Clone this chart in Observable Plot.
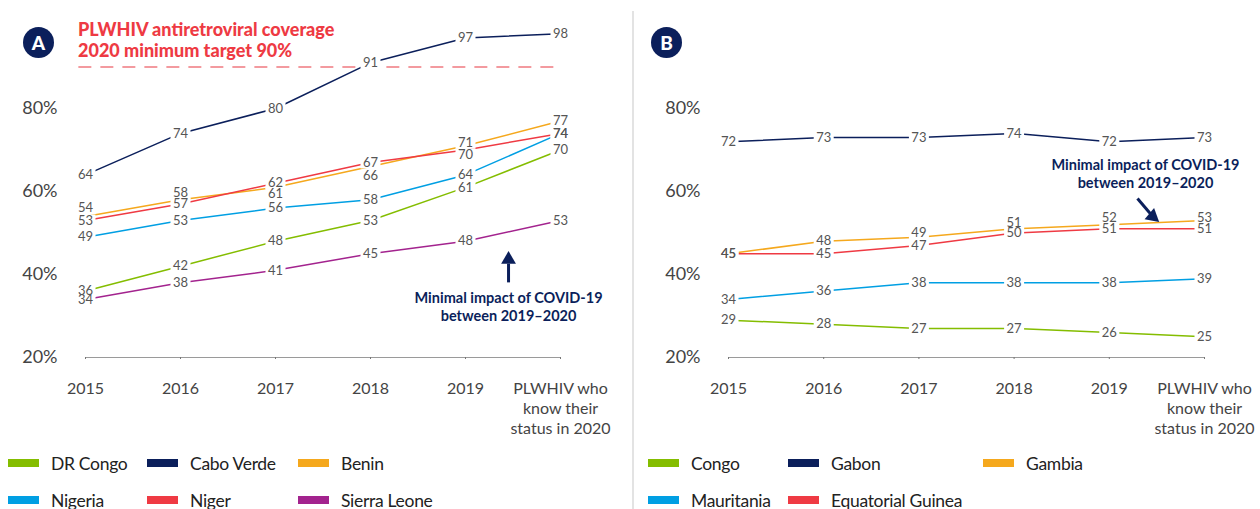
<!DOCTYPE html>
<html><head><meta charset="utf-8">
<script src="https://cdn.jsdelivr.net/npm/d3@7"></script>
<script src="https://cdn.jsdelivr.net/npm/@observablehq/plot@0.6"></script>
<style>
body{margin:0;background:#fff;font-family:Lato,"Open Sans",sans-serif;}
#wrap{position:relative;width:1260px;height:509px;overflow:hidden;background:#fff;}
.panel{position:absolute;top:0;}
.badge{position:absolute;width:31px;height:31px;border-radius:50%;background:#0b1f5b;color:#fff;font-weight:900;font-size:19px;text-align:center;line-height:31px;}
.title{position:absolute;left:78px;top:19px;color:#ee3a43;font-weight:900;font-size:18px;line-height:21px;white-space:nowrap;}
.divider{position:absolute;left:632px;top:11px;width:2px;height:498px;background:#e3e3e3;}
.li{position:absolute;font-size:17.5px;letter-spacing:-0.3px;color:#222;display:flex;align-items:center;height:24px;white-space:nowrap;}
.sw{display:inline-block;width:31px;height:8px;margin-right:12px;}
</style></head>
<body><div id="wrap"></div>
<script>
// ---------- data ----------
const xLabels = ["2015","2016","2017","2018","2019","PLWHIV who\nknow their\nstatus in 2020"];
const yTicks = [20, 40, 60, 80];

const seriesA = ["DR Congo","Cabo Verde","Benin","Nigeria","Niger","Sierra Leone"];
const drCongo     = [36, 42, 48, 53, 61, 70];
const caboVerde   = [64, 74, 80, 91, 97, 98];
const benin       = [54, 58, 61, 66, 71, 77];
const nigeria     = [49, 53, 56, 58, 64, 74];
const niger       = [53, 57, 62, 67, 70, 74];
const sierraLeone = [34, 38, 41, 45, 48, 53];
const colorsA = ["#84bd00","#0b1f5b","#f5a81d","#009fe3","#ef3a43","#a3238e"];

const seriesB = ["Congo","Gabon","Gambia","Mauritania","Equatorial Guinea"];
const congo      = [29, 28, 27, 27, 26, 25];
const gabon      = [72, 73, 73, 74, 72, 73];
const gambia     = [45, 48, 49, 51, 52, 53];
const mauritania = [34, 36, 38, 38, 38, 39];
const eqGuinea   = [45, 45, 47, 50, 51, 51];
const colorsB = ["#84bd00","#0b1f5b","#f5a81d","#009fe3","#ef3a43"];

const targetPct = 90;
const targetText = "PLWHIV antiretroviral coverage\n2020 minimum target 90%";
const covidText = "Minimal impact of COVID-19\nbetween 2019\u20132020";

// ---------- layout (label nudges in px, annotation anchors) ----------
const nudgeA = {"Benin": [-9,-7,6,9,-3,0], "Niger": [0,0,0,0,5,0]};
const nudgeB = {"Gambia": [0,0,-4,-6,-7,-3]};
const NAVY = "#0b1f5b";
// white rectangular mask behind each value label
const labelBox = {draw(ctx) { ctx.rect(-10, -6, 20, 12); }};

function panel(series, values, colors, nudge, width, marginRight, extra) {
  const rows = series.flatMap((s,k) => values[k].map((v,i) => ({s, i, v, dy: ((nudge[s]||[])[i]) || 0})));
  const groups = d3.groups(rows, d => d.dy);
  const marks = [
    Plot.ruleY([20], {x1: 0, x2: 5, stroke: "#9a9a9a", strokeWidth: 1}),
    Plot.axisX({ticks: d3.range(6), tickFormat: i => xLabels[i], tickSize: 2, tickPadding: 20, label: null,
      fontSize: 16, lineHeight: 1.25, fill: "#444", stroke: "#777"}),
    Plot.axisY({ticks: yTicks, tickFormat: d => d + "%", tickSize: 0, tickPadding: 28, fontSize: 18, fill: "#444", label: null}),
    ...extra.before,
    Plot.line(rows, {x: "i", y: "v", z: "s", stroke: "s", strokeWidth: 1.5}),
    ...groups.map(([dy, g]) => Plot.dot(g, {x: "i", y: "v", dy, symbol: labelBox, r: 5, fill: "white", stroke: null})),
    ...groups.map(([dy, g]) => Plot.text(g, {x: "i", y: "v", dy, text: d => String(d.v), fontSize: 13, fill: "#555"})),
    ...extra.after
  ];
  return Plot.plot({
    width, height: 440, marginLeft: 85, marginRight, marginTop: 25, marginBottom: 83,
    x: {domain: [0, 5], label: null},
    y: {domain: [20, 100], label: null},
    color: {domain: series, range: colors},
    style: {fontFamily: "Lato, sans-serif", background: "transparent", overflow: "visible"},
    marks
  });
}

const plotA = panel(seriesA, [drCongo, caboVerde, benin, nigeria, niger, sierraLeone], colorsA, nudgeA, 632, 72, {
  before: [Plot.ruleY([targetPct], {x1: -0.07, x2: 4.93, stroke: "#f07a80", strokeWidth: 1.6, strokeDasharray: "13,9"})],
  after: [
    Plot.link([0], {x1: 4.453, x2: 4.453, y1: 38.1, y2: 42.6, stroke: NAVY, strokeWidth: 3}),
    Plot.dot([0], {x: 4.453, y: 43.6, symbol: "triangle", r: 5.5, fill: NAVY}),
    Plot.text([covidText], {x: 4.453, y: 32.4, fontSize: 14.5, fontWeight: 700, fill: NAVY, lineHeight: 1.3})
  ]
});
const plotB = panel(seriesB, [congo, gabon, gambia, mauritania, eqGuinea], colorsB, nudgeB, 617, 56, {
  before: [],
  after: [
    Plot.link([0], {x1: 4.296, x2: 4.43, y1: 58.3, y2: 54.7, stroke: NAVY, strokeWidth: 3}),
    Plot.dot([0], {x: 4.455, y: 54.0, symbol: "triangle", r: 5.5, fill: NAVY, rotate: 130}),
    Plot.text([covidText], {x: 4.38, y: 64.46, fontSize: 14.5, fontWeight: 700, fill: NAVY, lineHeight: 1.3})
  ]
});

const wrap = document.getElementById("wrap");
const pa = document.createElement("div"); pa.className = "panel"; pa.style.left = "0px"; pa.appendChild(plotA); wrap.appendChild(pa);
const pb = document.createElement("div"); pb.className = "panel"; pb.style.left = "643px"; pb.appendChild(plotB); wrap.appendChild(pb);

const div = document.createElement("div"); div.className = "divider"; wrap.appendChild(div);
const t = document.createElement("div"); t.className = "title"; t.innerHTML = targetText.replace("\n", "<br>"); wrap.appendChild(t);
[["A", 23, 27], ["B", 651, 27]].forEach(([ch, l, tp]) => {
  const b = document.createElement("div"); b.className = "badge"; b.textContent = ch;
  b.style.left = l + "px"; b.style.top = tp + "px"; wrap.appendChild(b);
});

// legends
function legend(series, colors, positions) {
  series.forEach((s, k) => {
    const [l, tp] = positions[k];
    const it = document.createElement("div"); it.className = "li";
    it.style.left = l + "px"; it.style.top = tp + "px";
    const sw = document.createElement("span"); sw.className = "sw"; sw.style.background = colors[k];
    it.appendChild(sw); it.appendChild(document.createTextNode(s));
    wrap.appendChild(it);
  });
}
legend(seriesA, colorsA, [[8,451],[147,451],[298,451],[8,488],[147,488],[298,488]]);
legend(seriesB, colorsB, [[648,451],[788,451],[983,451],[648,488],[788,488]]);
</script></body></html>
